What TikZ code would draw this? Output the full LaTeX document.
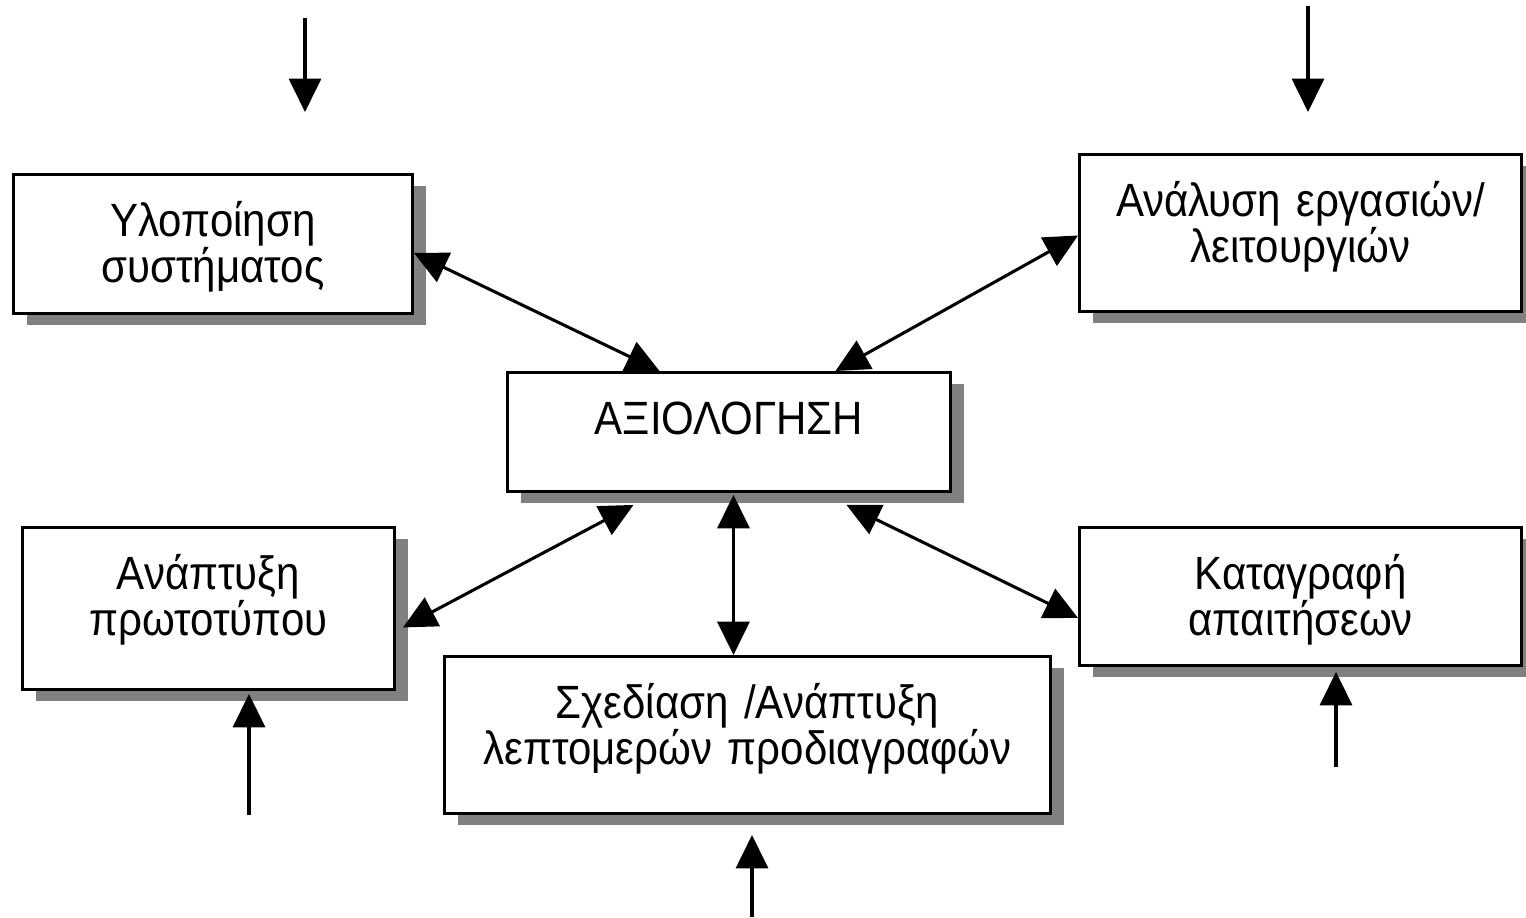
\documentclass[tikz,border=0pt]{standalone}
\usepackage{fontspec}
\setmainfont{Liberation Sans}[FakeStretch=0.9]
\usetikzlibrary{arrows.meta,shadows,calc}

\begin{document}
\begin{tikzpicture}[x=0.75pt, y=-0.75pt,
    >={Triangle[length=25pt,width=24pt]},
    box/.style={draw, line width=2.2pt, fill=white, anchor=north west,
        align=center, inner xsep=0pt, inner ysep=0pt, text height=46.5pt,
        font=\fontsize{35}{34.5}\selectfont,
        drop shadow={shadow xshift=10pt, shadow yshift=-9pt,
            fill=black!50, opacity=1}},
    link/.style={line width=2.3pt}]

    \useasboundingbox (0,0) rectangle (1526,917);

    % Boxes
    \node[box, text width=299.25pt, text depth=57.75pt] (b1) at (12,173) {Υλοποίηση\\συστήματος};
    \node[box, text width=331.5pt, text depth=71.25pt] (b2) at (1078,153) {Ανάλυση εργασιών/\\λειτουργιών};
    \node[box, text width=332.25pt, text depth=42.75pt] (b3) at (506,371) {ΑΞΙΟΛΟΓΗΣΗ};
    \node[box, text width=279pt, text depth=75pt] (b4) at (21,526) {Ανάπτυξη\\πρωτοτύπου};
    \node[box, text width=331.5pt, text depth=57pt] (b5) at (1078,526) {Καταγραφή\\απαιτήσεων};
    \node[box, text width=454.5pt, text depth=71.25pt] (b6) at (443,655) {Σχεδίαση /Ανάπτυξη\\λεπτομερών προδιαγραφών};

    % Inputs
    \coordinate (in1) at (305,18);
    \coordinate (to1) at (305,112);
    \coordinate (in2) at (1308,6);
    \coordinate (to2) at (1308,112);
    \coordinate (in4) at (249,815);
    \coordinate (in5) at (1336,767);
    \coordinate (in6) at (752,917);
    \coordinate (to6) at (752,835);

    \draw[link, ->] (in1) -- (to1);
    \draw[link, ->] (in2) -- (to2);
    \draw[link, ->] (in4) -- ($(in4 |- b4.south)+(0,3)$);
    \draw[link, ->] (in5) -- ($(in5 |- b5.south)+(0,5)$);
    \draw[link, ->] (in6) -- (to6);

    % Evaluation links
    \draw[link, <->] ($(b1.east)+(0,9)$) -- ($(b3.north)+(-69.5,0)$);
    \draw[link, <->] ($(b2.west)+(0,2.5)$) -- ($(b3.north)+(106.5,0)$);
    \draw[link, <->] ($(b3.south)+(-95.5,12)$) -- ($(b4.east)+(7,19)$);
    \coordinate (m3) at ($(b3.south)+(4.5,2)$);
    \draw[link, <->] (m3) -- (m3 |- b6.north);
    \draw[link, <->] ($(b3.south)+(117.5,12)$) -- ($(b5.west)+(0,21.5)$);

\end{tikzpicture}
\end{document}
